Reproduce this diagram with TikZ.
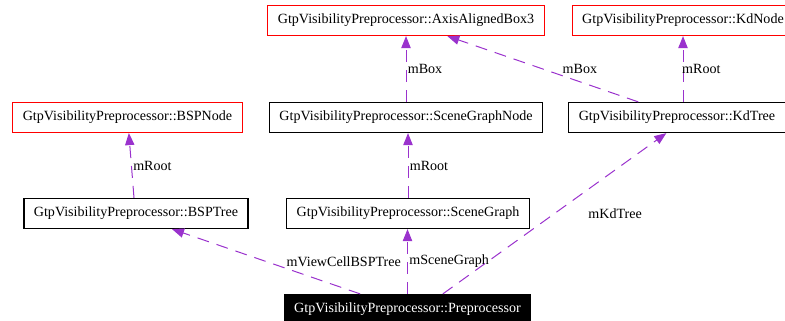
\documentclass[tikz,border=0pt]{standalone}
\usepackage{fontspec}
\setmainfont{Liberation Serif}
\usepackage{xcolor}
\definecolor{edge}{HTML}{9A32CD}
\definecolor{hot}{HTML}{FF0000}
\usetikzlibrary{positioning,arrows.meta}

\begin{document}
\begin{tikzpicture}[x=0.75pt,y=-0.75pt,
  cls/.style={draw=black,fill=white,line width=0.9pt,inner xsep=7.5pt,inner ysep=0pt,
    minimum height=22.5pt,font=\fontsize{10.55}{12}\selectfont},
  ext/.style={cls,draw=hot},
  main/.style={cls,fill=black,text=white},
  lab/.style={anchor=west,inner sep=1pt,font=\fontsize{10.55}{12}\selectfont},
  dep/.style={-{Triangle[length=9pt,width=7pt]},line width=0.75pt,color=edge,
    dash pattern=on 9pt off 6pt}]
\useasboundingbox (0,0) rectangle (785,321);
\node[ext] (aab) at (406,20.5) {GtpVisibilityPreprocessor::AxisAlignedBox3};
\node[ext] (kdn) at (683,20.5) {GtpVisibilityPreprocessor::KdNode};
\node[ext] (bspn) at (127.5,117.5) {GtpVisibilityPreprocessor::BSPNode};
\node[cls] (sgn) at (406,117.5) {GtpVisibilityPreprocessor::SceneGraphNode};
\node[cls] (kdt) at (677,117.5) {GtpVisibilityPreprocessor::KdTree};
\node[cls] (bspt) at (136,213.5) {GtpVisibilityPreprocessor::BSPTree};
\node[cls] (sg) at (408,213.5) {GtpVisibilityPreprocessor::SceneGraph};
\node[main] (pre) at (407.5,309.5) {GtpVisibilityPreprocessor::Preprocessor};
% members
\draw[dep] ([xshift=-1.5pt]bspt.north) -- node[lab,text=black]{mRoot} ([xshift=1pt]bspn.south);
\draw[dep] (sgn.north) -- node[lab,text=black]{mBox} (aab.south);
\draw[dep] ([xshift=-29pt]kdt.north) -- node[lab,text=black,xshift=13.5pt]{mBox} ([xshift=31pt]aab.south);
\draw[dep] (kdt.north -| kdn.south) -- node[lab,text=black,xshift=-2pt]{mRoot} (kdn.south);
\draw[dep] (sg.north) -- node[lab,text=black]{mRoot} (sg.north |- sgn.south);
\draw[dep] ([xshift=-35.5pt]pre.north) -- node[lab,text=black,xshift=14pt]{mViewCellBSPTree} ([xshift=27pt]bspt.south);
\draw[dep] (pre.north) -- node[lab,text=black]{mSceneGraph} (pre.north |- sg.south);
\draw[dep] ([xshift=26.5pt]pre.north) -- node[lab,text=black,xshift=24pt]{mKdTree} ([xshift=-8pt]kdt.south);
\end{tikzpicture}
\end{document}
